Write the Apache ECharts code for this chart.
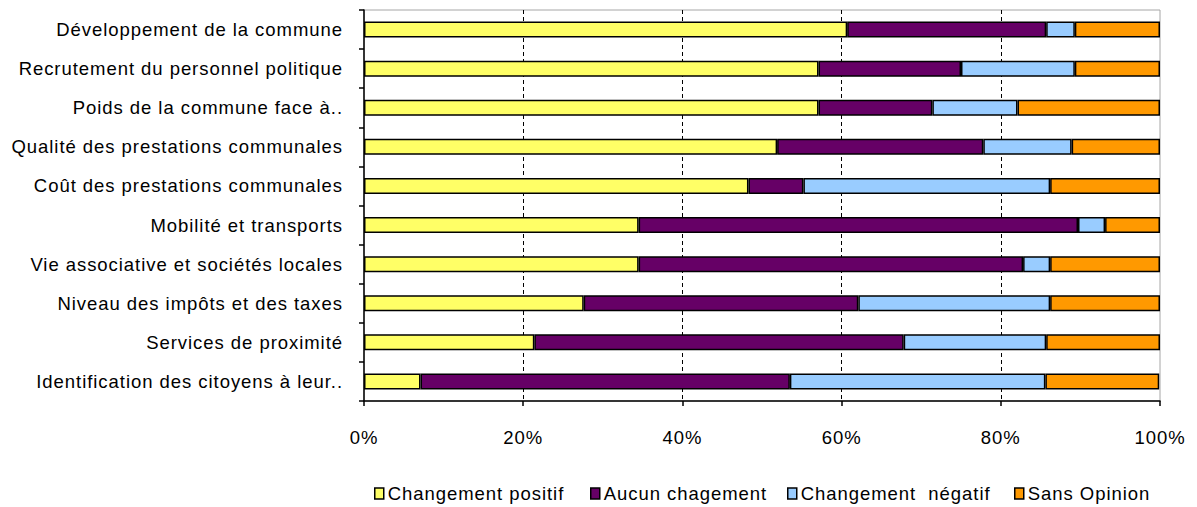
<!DOCTYPE html>
<html>
<head>
<meta charset="utf-8">
<script src="https://cdn.jsdelivr.net/npm/echarts@6/dist/echarts.min.js"></script>
<style>
  html, body { margin: 0; padding: 0; background: #fff; }
  #chart { width: 1197px; height: 507px; }
  /* slightly airy lettering for all chart texts */
  #chart svg text { letter-spacing: 0.95px; }
</style>
</head>
<body>
<div id="chart"></div>
<script>
// Thèmes évalués, du haut vers le bas
const categories = [
  'Développement de la commune',
  'Recrutement du personnel politique',
  'Poids de la commune face à..',
  'Qualité des prestations communales',
  'Coût des prestations communales',
  'Mobilité et transports',
  'Vie associative et sociétés locales',
  'Niveau des impôts et des taxes',
  'Services de proximité',
  'Identification des citoyens à leur..'
];

// Parts des réponses (%)
const positif = [60.7, 57.1, 57.1, 51.9, 48.3, 34.5, 34.5, 27.6, 21.4, 7.1];
const aucun   = [25.0, 17.9, 14.3, 25.9, 6.9, 55.2, 48.3, 34.5, 46.4, 46.4];
const negatif = [3.6, 14.3, 10.7, 11.1, 31.0, 3.4, 3.4, 24.1, 17.9, 32.1];
const sansOp  = [10.7, 10.7, 17.9, 11.1, 13.8, 6.9, 13.8, 13.8, 14.3, 14.3];

const seriesNames = ['Changement positif', 'Aucun chagement', 'Changement  négatif', 'Sans Opinion'];
const seriesColors = ['#FFFF66', '#660066', '#99CCFF', '#FF9900'];
const seriesData = [positif, aucun, negatif, sansOp];

// left edge of each legend entry
const legendLeft = [374, 590, 787, 1014];

const font = '"Liberation Sans", Arial, sans-serif';
const fs = 18.5;

const chart = echarts.init(document.getElementById('chart'), null, { renderer: 'svg' });

chart.setOption({
  animation: false,
  backgroundColor: '#fff',
  textStyle: { fontFamily: font },
  grid: {
    left: 364, right: 37, top: 10, bottom: 106,
    show: true, borderColor: '#a6a6a6', borderWidth: 1
  },
  legend: seriesNames.map((n, i) => ({
    left: legendLeft[i], top: 484, padding: 0,
    icon: 'rect', itemWidth: 9, itemHeight: 11,
    textStyle: { fontFamily: font, fontSize: fs, color: '#000', padding: [0, 0, 0, -1] },
    data: [{
      name: n,
      itemStyle: { color: seriesColors[i], borderColor: '#000', borderWidth: 1.5 }
    }]
  })),
  xAxis: {
    type: 'value', min: 0, max: 100, interval: 20,
    axisLine: { show: true, lineStyle: { color: '#000', width: 1.5 } },
    axisTick: { show: true, length: 5, lineStyle: { color: '#000', width: 1.5 } },
    axisLabel: { formatter: '{value}%', fontFamily: font, fontSize: fs, color: '#000', margin: 27 },
    splitLine: { show: true, showMinLine: false, showMaxLine: false,
      lineStyle: { color: '#000', type: [4, 3], width: 1 } }
  },
  yAxis: {
    type: 'category', data: categories, inverse: true,
    axisLine: { show: true, lineStyle: { color: '#000', width: 1.5 } },
    axisTick: { show: true, length: 5, lineStyle: { color: '#000', width: 1.5 } },
    axisLabel: { fontFamily: font, fontSize: fs, color: '#000', margin: 21 },
    splitLine: { show: false }
  },
  series: seriesNames.map((n, i) => ({
    name: n, type: 'bar', stack: 'total', barWidth: 16,
    data: seriesData[i],
    itemStyle: { color: seriesColors[i], borderColor: '#000', borderWidth: 1.5 }
  }))
});
</script>
</body>
</html>
